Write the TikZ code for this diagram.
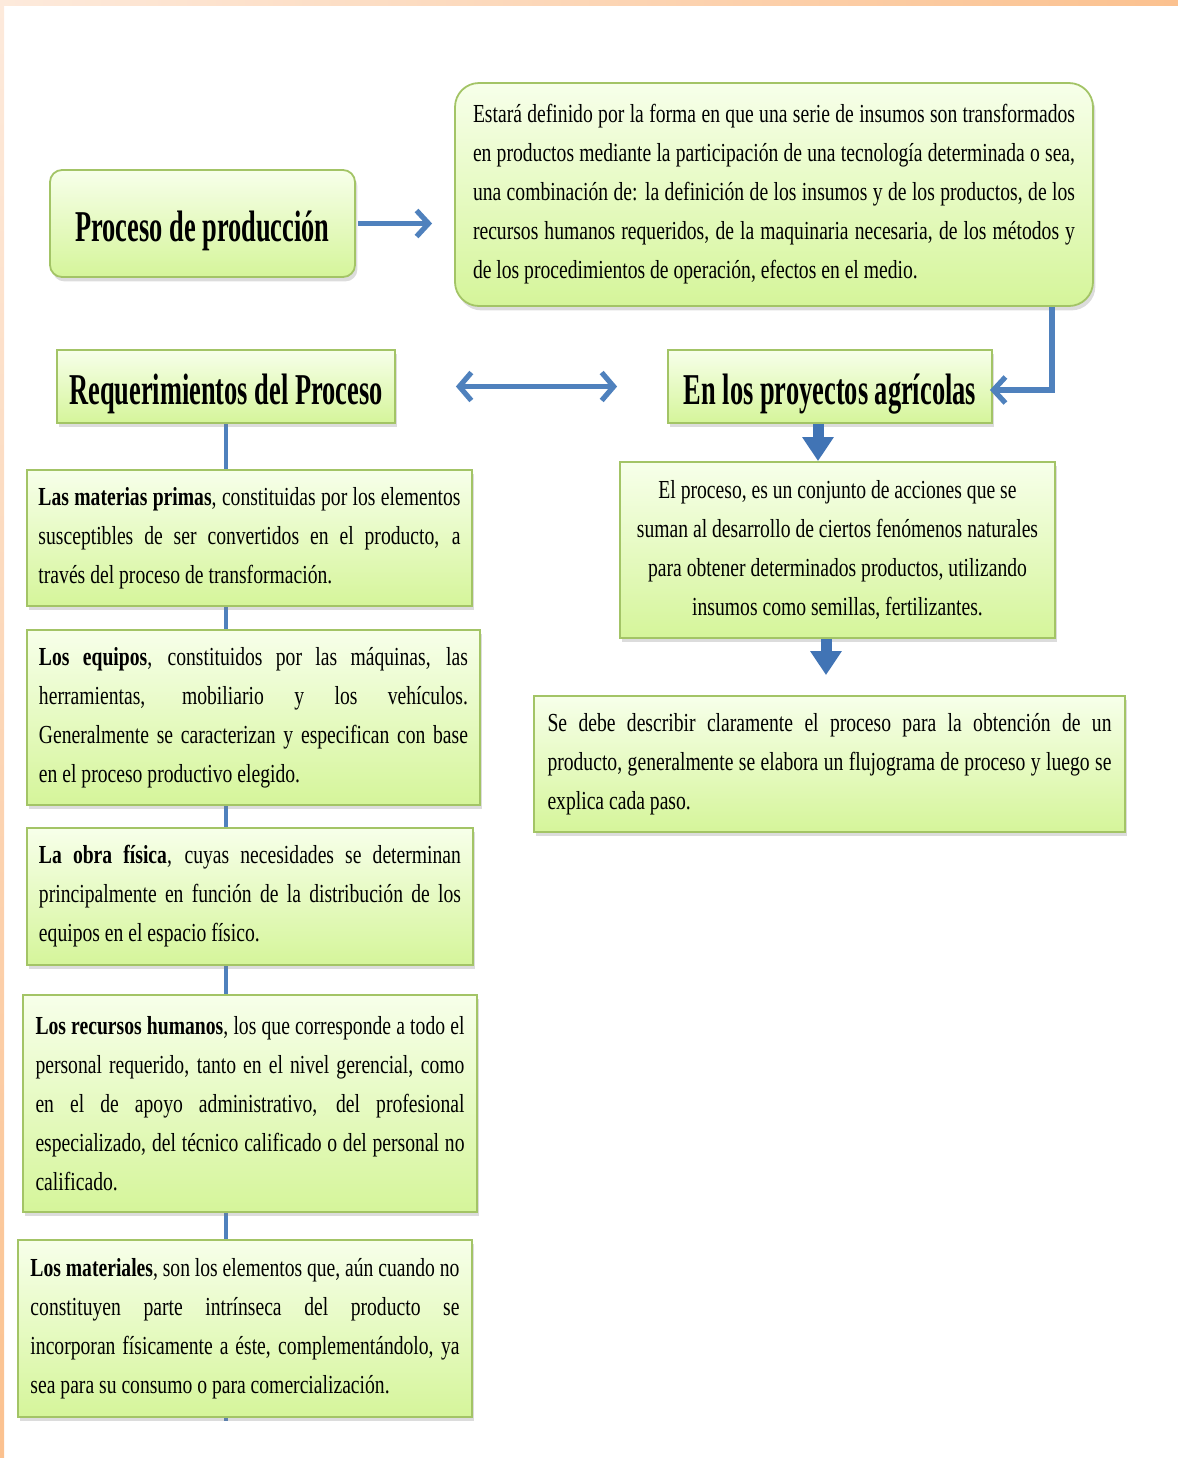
\documentclass[tikz,border=0pt]{standalone}
\usepackage{fontspec}
\setmainfont{Liberation Serif}[FakeStretch=0.755]
\newfontfamily\titlefont{Liberation Serif}[FakeStretch=0.60]
\usetikzlibrary{arrows.meta,shadows,backgrounds}
\definecolor{bblue}{HTML}{4F81BD}
\definecolor{dblue}{HTML}{4174B5}
\definecolor{gborder}{HTML}{A3C466}
\definecolor{gtop}{HTML}{F7FFEA}
\definecolor{gbot}{HTML}{D5F59A}
\definecolor{stripA}{HTML}{FDEADC}
\definecolor{stripB}{HTML}{FBC18F}
\newcommand\jl[1]{\noindent\hbox to\hsize{\spaceskip=0pt\xspaceskip=0pt #1}\par}
\newcommand\lastln[1]{\noindent\hbox{\spaceskip=0pt\xspaceskip=0pt #1}\par}
\newcommand\cln[1]{\noindent\hbox to\hsize{\hss\spaceskip=0pt\xspaceskip=0pt #1\hss}\par}
\begin{document}
\begin{tikzpicture}[x=0.5pt,y=-0.5pt,
  gbox/.style={draw=gborder, line width=0.9pt, top color=gtop, bottom color=gbot,
    drop shadow={opacity=0.28, shadow xshift=1.2pt, shadow yshift=-2.2pt},
    inner ysep=0pt},
  bodytxt/.style={font={\fontsize{13}{19.5}\selectfont\parindent=0pt}, align=left},
  titletxt/.style={font={\titlefont\fontsize{22}{24}\selectfont\bfseries}, align=center, inner sep=0pt, text height=23pt, text depth=5pt},
  tarrow/.style={draw=bblue, line width=2.6pt, -{Straight Barb[length=6pt,width=13pt]}},
  darrow/.style={draw=bblue, line width=2.6pt, {Straight Barb[length=6pt,width=14pt]}-{Straight Barb[length=6pt,width=14pt]}},
  barrow/.style={draw=dblue, line width=5.5pt, -{Triangle[length=12pt,width=15pt]}},
  vline/.style={draw=bblue, line width=2pt}]
\useasboundingbox (0,0) rectangle (1178,1458);
\shade[left color=stripA, right color=stripB] (0,0) rectangle (1178,5);
\shade[top color=stripA, bottom color=stripB] (0,0) rectangle (4,1458);

% titles
\node[gbox, titletxt, rounded corners=6pt, minimum width=152.5pt, minimum height=53.5pt] (proc) at (202.5,223.5) {Proceso de producción};
\node[gbox, bodytxt, rounded corners=12pt, text width=301pt, inner xsep=9pt, minimum height=111.5pt] (def) at (774,194.5) {%
\jl{Estará definido por la forma en que una serie de insumos son transformados}%
\jl{en productos mediante la participación de una tecnología determinada o sea,}%
\jl{una combinación de: la definición de los insumos y de los productos, de los}%
\jl{recursos humanos requeridos, de la maquinaria necesaria, de los métodos y}%
\lastln{de los procedimientos de operación, efectos en el medio.}};
\node[gbox, titletxt, minimum width=169pt, minimum height=36.5pt] (req) at (226,386.5) {Requerimientos del Proceso};
\node[gbox, titletxt, minimum width=162pt, minimum height=36.5pt] (agr) at (830,386.5) {En los proyectos agrícolas};

% right column
\node[gbox, bodytxt, text width=214pt, inner xsep=1.75pt, minimum height=88pt] (elp) at (837.5,550) {%
\cln{El proceso, es un conjunto de acciones que se}%
\cln{suman al desarrollo de ciertos fenómenos naturales}%
\cln{para obtener determinados productos, utilizando}%
\cln{insumos como semillas, fertilizantes.}};
\node[gbox, bodytxt, text width=282pt, inner xsep=6.75pt, minimum height=68pt] (sede) at (829.5,764) {%
\jl{Se debe describir claramente el proceso para la obtención de un}%
\jl{producto, generalmente se elabora un flujograma de proceso y luego se}%
\lastln{explica cada paso.}};

% left column
\node[gbox, bodytxt, text width=211pt, inner xsep=5.75pt, minimum height=68pt] (mp) at (249.5,538) {%
\jl{\textbf{Las materias primas}, constituidas por los elementos}%
\jl{susceptibles de ser convertidos en el producto, a}%
\lastln{través del proceso de transformación.}};
\node[gbox, bodytxt, text width=214.5pt, inner xsep=6pt, minimum height=87.5pt] (eq) at (253.5,717.5) {%
\jl{\textbf{Los equipos}, constituidos por las máquinas, las}%
\jl{herramientas, mobiliario y los vehículos.}%
\jl{Generalmente se caracterizan y especifican con base}%
\lastln{en el proceso productivo elegido.}};
\node[gbox, bodytxt, text width=211pt, inner xsep=6pt, minimum height=68.5pt] (of) at (250,896.5) {%
\jl{\textbf{La obra física}, cuyas necesidades se determinan}%
\jl{principalmente en función de la distribución de los}%
\lastln{equipos en el espacio físico.}};
\node[gbox, bodytxt, text width=214.5pt, inner xsep=6.25pt, minimum height=108.5pt] (rh) at (250,1103.5) {%
\jl{\textbf{Los recursos humanos}, los que corresponde a todo el}%
\jl{personal requerido, tanto en el nivel gerencial, como}%
\jl{en el de apoyo administrativo, del profesional}%
\jl{especializado, del técnico calificado o del personal no}%
\lastln{calificado.}};
\node[gbox, bodytxt, text width=214.5pt, inner xsep=6.25pt, minimum height=88.5pt] (mat) at (245,1328.5) {%
\jl{\textbf{Los materiales}, son los elementos que, aún cuando no}%
\jl{constituyen parte intrínseca del producto se}%
\jl{incorporan físicamente a éste, complementándolo, ya}%
\lastln{sea para su consumo o para comercialización.}};

% connectors
\coordinate (vend) at (226,1421);
\coordinate (ec) at (1052,390);
\coordinate (b1) at (818,0);
\coordinate (b2) at (826,0);
\begin{pgfonlayer}{background}
\draw[vline] (req.south) -- (vend);
\end{pgfonlayer}
\draw[tarrow, shorten <=1pt, shorten >=11pt] (proc.east) -- (def.west |- proc.east);
\draw[darrow, shorten <=30pt, shorten >=25pt] (req.east) -- (agr.west);
\draw[tarrow, shorten >=-1.5pt] (def.south -| ec) -- (ec) -- (agr.east |- ec);
\draw[barrow] (agr.south -| b1) -- (elp.north -| b1);
\draw[barrow, shorten >=10pt] (elp.south -| b2) -- (sede.north -| b2);
\end{tikzpicture}
\end{document}
